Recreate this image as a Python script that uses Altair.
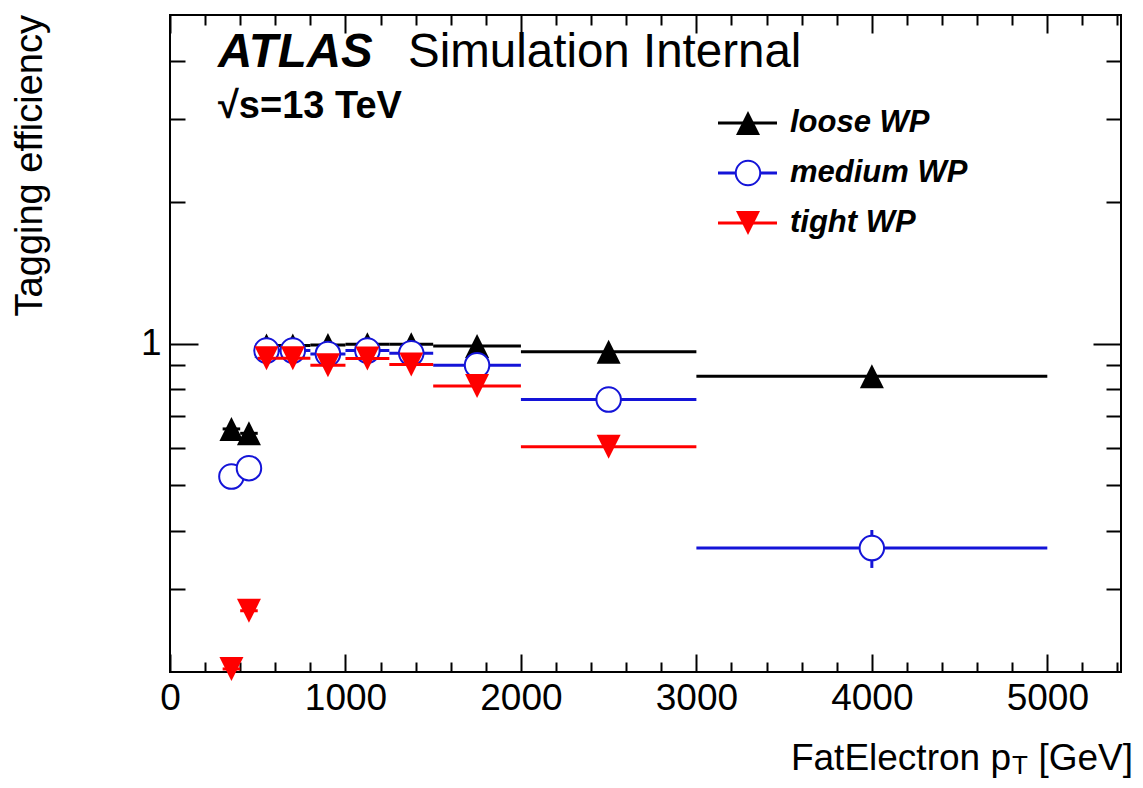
import altair as alt
import pandas as pd

# ---------------- data ----------------
bin_lo = [300, 400, 500, 600, 800, 1000, 1250, 1500, 2000, 3000]
bin_hi = [400, 500, 600, 800, 1000, 1250, 1500, 2000, 3000, 5000]
loose_eff = [0.658, 0.644, 0.990, 0.990, 0.993, 0.996, 0.996, 0.988, 0.960, 0.852]
medium_eff = [0.521, 0.543, 0.966, 0.966, 0.950, 0.966, 0.953, 0.899, 0.760, 0.367]
tight_eff = [0.203, 0.270, 0.930, 0.930, 0.899, 0.929, 0.902, 0.812, 0.603, None]
medium_err = [0, 0, 0, 0, 0, 0, 0, 0, 0, 0.034]
legend_labels = ["loose WP", "medium WP", "tight WP"]
x_major = [0, 1000, 2000, 3000, 4000, 5000]
x_minor = [v for v in range(200, 5500, 200) if v % 1000 != 0]
y_major = [1]
y_minor = [0.3, 0.4, 0.5, 0.6, 0.7, 0.8, 0.9, 2, 3, 4]

FONT = "Liberation Sans"
W, H = 951, 657
XS = alt.Scale(type="linear", domain=[0, 5420], nice=False, zero=False)
YS = alt.Scale(type="log", domain=[0.2, 5], nice=False)

BLACK, BLUE, RED = "#000000", "#1414d8", "#ff0000"
TRI_UP = "M0,-1L1,1L-1,1Z"
TRI_DOWN = "M-1,-1L1,-1L0,1Z"


def series_df(eff, err=None):
    rows = []
    for i, v in enumerate(eff):
        if v is None:
            continue
        e = err[i] if err else 0
        rows.append({"lo": bin_lo[i], "hi": bin_hi[i], "c": (bin_lo[i] + bin_hi[i]) / 2,
                     "v": v, "elo": v - e, "ehi": v + e, "e": e})
    return pd.DataFrame(rows)


df_loose = series_df(loose_eff)
df_medium = series_df(medium_eff, medium_err)
df_tight = series_df(tight_eff)
df_all = pd.concat([df_loose, df_medium, df_tight])


def tick_axis(orient, offset, values, size):
    return alt.Axis(orient=orient, offset=offset, values=values, tickSize=size,
                    labels=False, domain=False, grid=False, title=None,
                    tickColor="black", tickWidth=2)


def axis_layer(xaxis, yaxis):
    return alt.Chart(df_all).mark_point(opacity=0).encode(
        x=alt.X("c:Q", scale=XS, axis=xaxis),
        y=alt.Y("v:Q", scale=YS, axis=yaxis),
    )


layers = [
    axis_layer(tick_axis("top", -H, x_major, 18), tick_axis("right", -W, y_major, 28)),
    axis_layer(tick_axis("top", -H, x_minor, 10), tick_axis("right", -W, y_minor, 15)),
    axis_layer(tick_axis("bottom", -H, x_major, 18), tick_axis("left", -W, y_major, 28)),
    axis_layer(tick_axis("bottom", -H, x_minor, 10), tick_axis("left", -W, y_minor, 15)),
    axis_layer(
        alt.Axis(orient="bottom", values=x_major, format="d", tickSize=0, labelPadding=8,
                 labelFont=FONT, labelFontSize=37, labelColor="black", labelFlush=False,
                 labelOverlap=False, domain=False, grid=False, title=None),
        alt.Axis(orient="left", values=y_major, format="d", tickSize=0, labelPadding=9,
                 labelFont=FONT, labelFontSize=37, labelColor="black",
                 labelOverlap=False, domain=False, grid=False, title=None),
    ),
]


def bins(df, color):
    return alt.Chart(df).mark_rule(color=color, strokeWidth=3).encode(
        x=alt.X("lo:Q", scale=XS, axis=None), x2="hi:Q",
        y=alt.Y("v:Q", scale=YS, axis=None),
    )


def errs(df, color):
    return alt.Chart(df[df["e"] > 0]).mark_rule(color=color, strokeWidth=3).encode(
        x=alt.X("c:Q", scale=XS, axis=None),
        y=alt.Y("elo:Q", scale=YS, axis=None), y2="ehi:Q",
    )


def markers(df, **kw):
    return alt.Chart(df).mark_point(opacity=1, **kw).encode(
        x=alt.X("c:Q", scale=XS, axis=None),
        y=alt.Y("v:Q", scale=YS, axis=None),
    )


layers += [
    bins(df_loose, BLACK),
    markers(df_loose, shape=TRI_UP, filled=True, color=BLACK, size=576),
    bins(df_medium, BLUE),
    errs(df_medium, BLUE),
    markers(df_medium, shape="circle", filled=True, fill="white", stroke=BLUE,
            strokeWidth=2, size=600),
    bins(df_tight, RED),
    markers(df_tight, shape=TRI_DOWN, filled=True, color=RED, size=576),
]


def text_layer(txt, x, y, size, weight="normal", style="normal", align="left",
               baseline="alphabetic", angle=0):
    return alt.Chart(pd.DataFrame({"t": [txt]})).mark_text(
        font=FONT, fontSize=size, fontWeight=weight, fontStyle=style, align=align,
        baseline=baseline, angle=angle, color="black",
    ).encode(x=alt.value(x), y=alt.value(y), text="t:N")


# ATLAS label
layers += [
    text_layer("ATLAS", 48, 52, 47.5, weight="bold", style="italic"),
    text_layer("Simulation Internal", 238, 52, 47.5),
    text_layer("√s=13 TeV", 48, 103, 38, weight="bold"),
]

# legend
leg_rows = [108, 158, 208]
leg_styles = [
    (BLACK, dict(shape=TRI_UP, filled=True, color=BLACK, size=576)),
    (BLUE, dict(shape="circle", filled=True, fill="white", stroke=BLUE, strokeWidth=2, size=600)),
    (RED, dict(shape=TRI_DOWN, filled=True, color=RED, size=576)),
]
for lab, yy, (col, mk) in zip(legend_labels, leg_rows, leg_styles):
    d = pd.DataFrame({"t": [lab]})
    layers.append(alt.Chart(d).mark_rule(color=col, strokeWidth=3).encode(
        x=alt.value(548), x2=alt.value(607), y=alt.value(yy)))
    layers.append(alt.Chart(d).mark_point(opacity=1, **mk).encode(
        x=alt.value(578), y=alt.value(yy)))
    layers.append(text_layer(lab, 620, yy, 31, weight="bold", style="italic",
                             baseline="middle"))

# axis titles
layers += [
    text_layer("Tagging efficiency", -128, 0, 38, align="right", angle=270),
    text_layer(" [GeV]", 963, 755, 37, align="right"),
    text_layer("T", 842, 759, 26, align="left"),
    text_layer("FatElectron p", 841, 755, 37, align="right"),
]

chart = (
    alt.layer(*layers)
    .resolve_axis(x="independent", y="independent")
    .properties(width=W, height=H,
                padding={"left": 162, "top": 7, "right": 14, "bottom": 108},
                autosize=alt.AutoSizeParams(type="none"))
    .configure_view(stroke="black", strokeWidth=2)
    .configure_axis(grid=False)
)

chart.save("out.html", embed_options={"renderer": "svg", "actions": False})
